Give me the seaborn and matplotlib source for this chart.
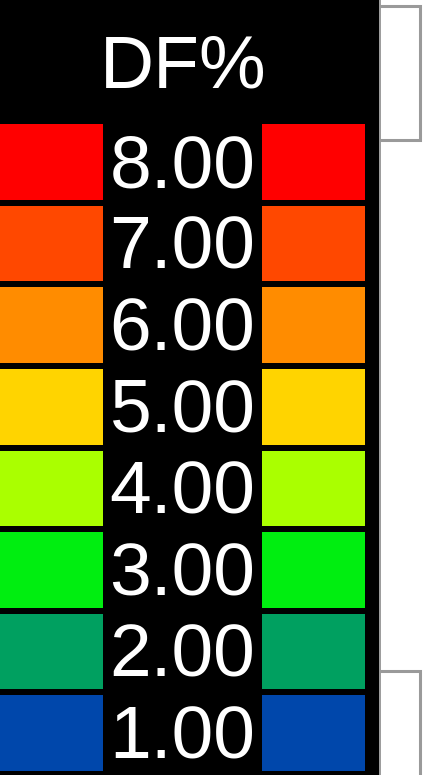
import numpy as np
import seaborn as sns
import matplotlib.pyplot as plt
from matplotlib.colors import ListedColormap
from matplotlib.patches import Rectangle
from matplotlib.lines import Line2D

# legend levels, top to bottom
labels = ["8.00", "7.00", "6.00", "5.00", "4.00", "3.00", "2.00", "1.00"]
colors = ["#FF0000", "#FF4800", "#FF8C00", "#FFD400",
          "#AAFF00", "#00EE10", "#00A060", "#0047AB"]
title = "DF%"

W, H = 429, 775
fig = plt.figure(figsize=(W / 100, H / 100), dpi=100)
fig.patch.set_facecolor("white")

def px(x0, y0, x1, y1):
    # pixel box (from top-left) -> figure fraction rect
    return [x0 / W, 1 - y1 / H, (x1 - x0) / W, (y1 - y0) / H]

# black legend panel
fig.patches.append(Rectangle((0, 0), 379 / W, 1, transform=fig.transFigure,
                             facecolor="black", edgecolor="none", zorder=-10))
fig.lines.append(Line2D([380 / W, 380 / W], [0, 1], transform=fig.transFigure,
                        color="#8a8a8a", lw=1.2, zorder=-5))

# grey frames on the right
grey = "#9a9a9a"
for xs, ys in [([381, 420, 420, 381], [6, 6, 140, 140]),
               ([381, 420, 420], [671, 671, 775])]:
    fig.lines.append(Line2D([x / W for x in xs], [1 - y / H for y in ys],
                            transform=fig.transFigure, color=grey, lw=2.2,
                            solid_joinstyle="miter", zorder=-5))

cmap = ListedColormap(colors)
levels = np.arange(len(labels)).reshape(-1, 1)

for x0, x1 in [(-3, 106), (259, 368)]:
    ax = fig.add_axes(px(x0, 121, x1, 774))
    sns.heatmap(levels, ax=ax, cmap=cmap, vmin=-0.5, vmax=len(labels) - 0.5,
                cbar=False, linewidths=4.3, linecolor="black",
                xticklabels=False, yticklabels=False)
    ax.set_axis_off()

# labels in the middle column
ax_txt = fig.add_axes(px(103, 121, 262, 774))
ax_txt.set_xlim(0, 1)
ax_txt.set_ylim(len(labels), 0)
ax_txt.set_axis_off()
for i, lab in enumerate(labels):
    ax_txt.text(0.5, i + 0.81, lab, color="white", fontsize=54,
                family="Liberation Sans", ha="center", va="baseline")

fig.text(183 / W, 1 - 87 / H, title, color="white", fontsize=54,
         family="Liberation Sans", ha="center", va="baseline")

fig.savefig("out.png", dpi=100)
